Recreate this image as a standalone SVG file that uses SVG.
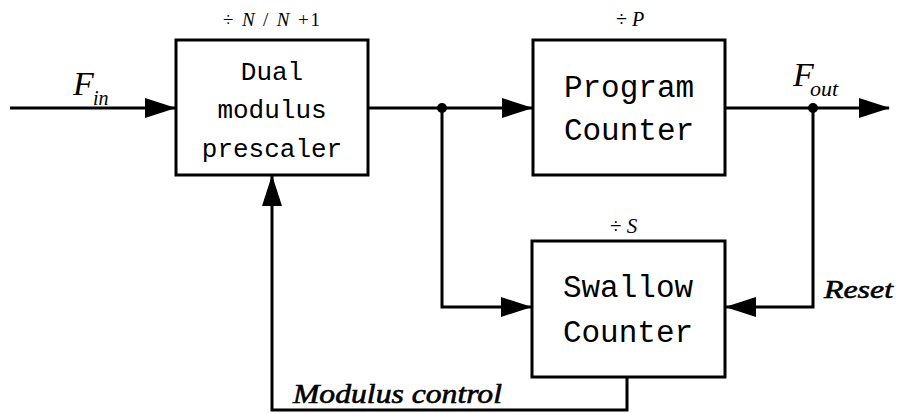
<svg xmlns="http://www.w3.org/2000/svg" width="898" height="413" viewBox="0 0 898 413">
<style>
.box{fill:#fff;stroke:#000;stroke-width:3}
.wire{fill:none;stroke:#000;stroke-width:3}
.mono{font-family:"Liberation Mono",monospace;fill:#000;text-anchor:middle}
.it{font-family:"Liberation Serif",serif;font-style:italic;fill:#000}
.lbl{stroke:#000;stroke-width:0.6}
.div{font-family:"Liberation Serif",serif;fill:#000}
</style>
<defs>
<marker id="arr" markerUnits="userSpaceOnUse" markerWidth="31" markerHeight="20" viewBox="0 0 31 20" refX="30" refY="10" orient="auto">
<path d="M0,0 L31,10 L0,20 z" fill="#000"/>
</marker>
</defs>
<rect width="898" height="413" fill="#fff"/>
<g id="connectors">
<path class="wire" d="M10,108 H175" marker-end="url(#arr)"/>
<path class="wire" d="M368,108 H532" marker-end="url(#arr)"/>
<path class="wire" d="M442,108 V307 H531" marker-end="url(#arr)"/>
<path class="wire" d="M725,108 H889" marker-end="url(#arr)"/>
<path class="wire" d="M813,108 V307 H726" marker-end="url(#arr)"/>
<path class="wire" d="M627,377 V410 H272 V176" marker-end="url(#arr)"/>
<circle cx="442" cy="108" r="5" fill="#000"/>
<circle cx="813" cy="108" r="5" fill="#000"/>
<text class="it" x="73" y="95" font-size="34">F</text>
<text class="it" x="93" y="105" font-size="20">in</text>
<text class="it" x="793" y="86" font-size="34">F</text>
<text class="it" x="810" y="96" font-size="22">out</text>
<text class="it lbl" x="824" y="298" font-size="26" textLength="69" lengthAdjust="spacingAndGlyphs">Reset</text>
<text class="it lbl" x="293" y="403" font-size="27" textLength="209" lengthAdjust="spacingAndGlyphs">Modulus control</text>
</g>
<g id="prescaler">
<rect class="box" x="176" y="40" width="192" height="135"/>
<text class="div" x="223" y="26" font-size="19" textLength="97" lengthAdjust="spacing">÷ <tspan font-style="italic">N</tspan> / <tspan font-style="italic">N</tspan> +1</text>
<text class="mono" x="272" y="80" font-size="26">Dual</text>
<text class="mono" x="272" y="118" font-size="26">modulus</text>
<text class="mono" x="272" y="157" font-size="26">prescaler</text>
</g>
<g id="program">
<rect class="box" x="533" y="40" width="192" height="135"/>
<text class="div" x="616" y="26" font-size="20">÷ <tspan font-style="italic">P</tspan></text>
<text class="mono" x="629" y="97" font-size="31">Program</text>
<text class="mono" x="629" y="140" font-size="31">Counter</text>
</g>
<g id="swallow">
<rect class="box" x="532" y="241" width="193" height="136"/>
<text class="div" x="610" y="233" font-size="21">÷ <tspan font-style="italic">S</tspan></text>
<text class="mono" x="628" y="297" font-size="31">Swallow</text>
<text class="mono" x="628" y="342" font-size="31">Counter</text>
</g>
</svg>
